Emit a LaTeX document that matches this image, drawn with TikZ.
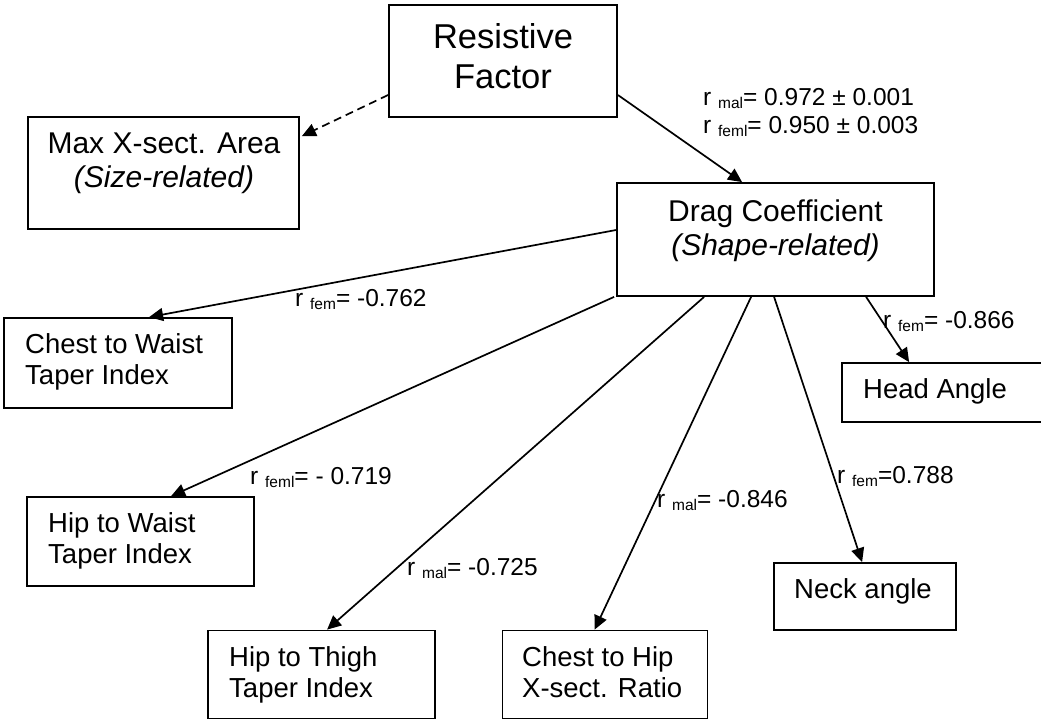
\documentclass[tikz,border=0pt]{standalone}
\usepackage{fontspec}
\setmainfont{Liberation Sans}
\usetikzlibrary{arrows.meta,calc}
% correlation label: r with a lowered small subscript
\newcommand\rsub[1]{r {\fontsize{15.5}{15.5}\selectfont\raisebox{-3.3pt}{#1}}}

\begin{document}
\begin{tikzpicture}[x=1pt,y=-1pt,
  box/.style={draw, line width=1.8pt, inner sep=0pt},
  bigtxt/.style={font=\fontsize{34.5}{40}\selectfont, align=center, inner sep=0pt},
  midtxt/.style={font=\fontsize{30}{34}\selectfont, align=center, inner sep=0pt},
  boxtxt/.style={font=\fontsize{27.5}{31}\selectfont, align=left, inner sep=0pt},
  lbl/.style={font=\fontsize{24.5}{28}\selectfont, inner sep=0pt, anchor=base west},
  conn/.style={line width=1.7pt, -{Triangle[length=14pt,width=13pt]}},
  dconn/.style={conn, dash pattern=on 8pt off 5pt}]
\useasboundingbox (0,0) rectangle (1041,720);
\clip (0,0) rectangle (1041,720);

% boxes
\node[box, minimum width=228, minimum height=112] (resist) at (503,61) {};
\node[box, minimum width=271, minimum height=112] (maxa) at (163.5,173) {};
\node[box, minimum width=317, minimum height=113] (drag) at (775.5,239.5) {};
\node[box, minimum width=228, minimum height=90] (cwt) at (118,363) {};
\node[box, minimum width=227, minimum height=89] (hwt) at (140.5,541.5) {};
\node[box, minimum width=227, minimum height=88] (htt) at (321.5,674.5) {};
\node[box, minimum width=205, minimum height=88] (chr) at (605,674.5) {};
\node[box, minimum width=182, minimum height=67] (neck) at (865,596.5) {};
\node[box, minimum width=218, minimum height=59] (head) at (951,392.5) {};

% box texts
\node[bigtxt] (resist-t) at (503,56) {Resistive\\Factor};
\node[midtxt] (maxa-t) at (164,163) {Max X-sect. Area\\\textit{(Size-related)}};
\node[midtxt] (drag-t) at (775.5,230.5) {Drag Coefficient\\\textit{(Shape-related)}};
\node[boxtxt, anchor=west] (cwt-t) at (25,362) {Chest to Waist\\Taper Index};
\node[boxtxt, anchor=west] (hwt-t) at (48,541) {Hip to Waist\\Taper Index};
\node[boxtxt, anchor=west] (htt-t) at (229,675) {Hip to Thigh\\Taper Index};
\node[boxtxt, anchor=west] (chr-t) at (522,672) {Chest to Hip\\X-sect. Ratio};
\node[boxtxt, anchor=base west] (neck-t) at (794,598) {Neck angle};
\node[boxtxt, anchor=base west] (head-t) at (863,398) {Head Angle};

% connectors
\draw[dconn] ($(resist.west)+(0,34)$) -- ($(maxa.north east)+(2,20)$);
\draw[conn] ($(resist.east)+(0,34)$) -- ($(drag.north west)+(126,0)$);
\draw[conn] ($(drag.west)+(0,-9.5)$) -- ($(cwt.north west)+(146,0)$);
\draw[conn] ($(drag.south west)+(-2,0)$) -- ($(hwt.north west)+(145,0)$);
\draw[conn] ($(drag.south west)+(88,0)$) -- ($(htt.north west)+(120,0)$);
\draw[conn] ($(drag.south west)+(135,0)$) -- ($(chr.north west)+(93,0)$);
\draw[conn] ($(drag.south west)+(158,0)$) -- ($(neck.north west)+(89,0)$);
\draw[conn] ($(drag.south west)+(250,0)$) -- ($(head.north west)+(68,0)$);

% correlation labels
\node[lbl] (l-top1) at (703,105) {\rsub{mal}= 0.972 ± 0.001};
\node[lbl] (l-top2) at (703,133) {\rsub{feml}= 0.950 ± 0.003};
\node[lbl] (l-cwt) at (295,306) {\rsub{fem}= -0.762};
\node[lbl] (l-hwt) at (250,484) {\rsub{feml}= - 0.719};
\node[lbl] (l-htt) at (407,575) {\rsub{mal}= -0.725};
\node[lbl] (l-chr) at (657,507) {\rsub{mal}= -0.846};
\node[lbl] (l-neck) at (837,483) {\rsub{fem}=0.788};
\node[lbl] (l-head) at (883,328) {\rsub{fem}= -0.866};
\end{tikzpicture}
\end{document}
